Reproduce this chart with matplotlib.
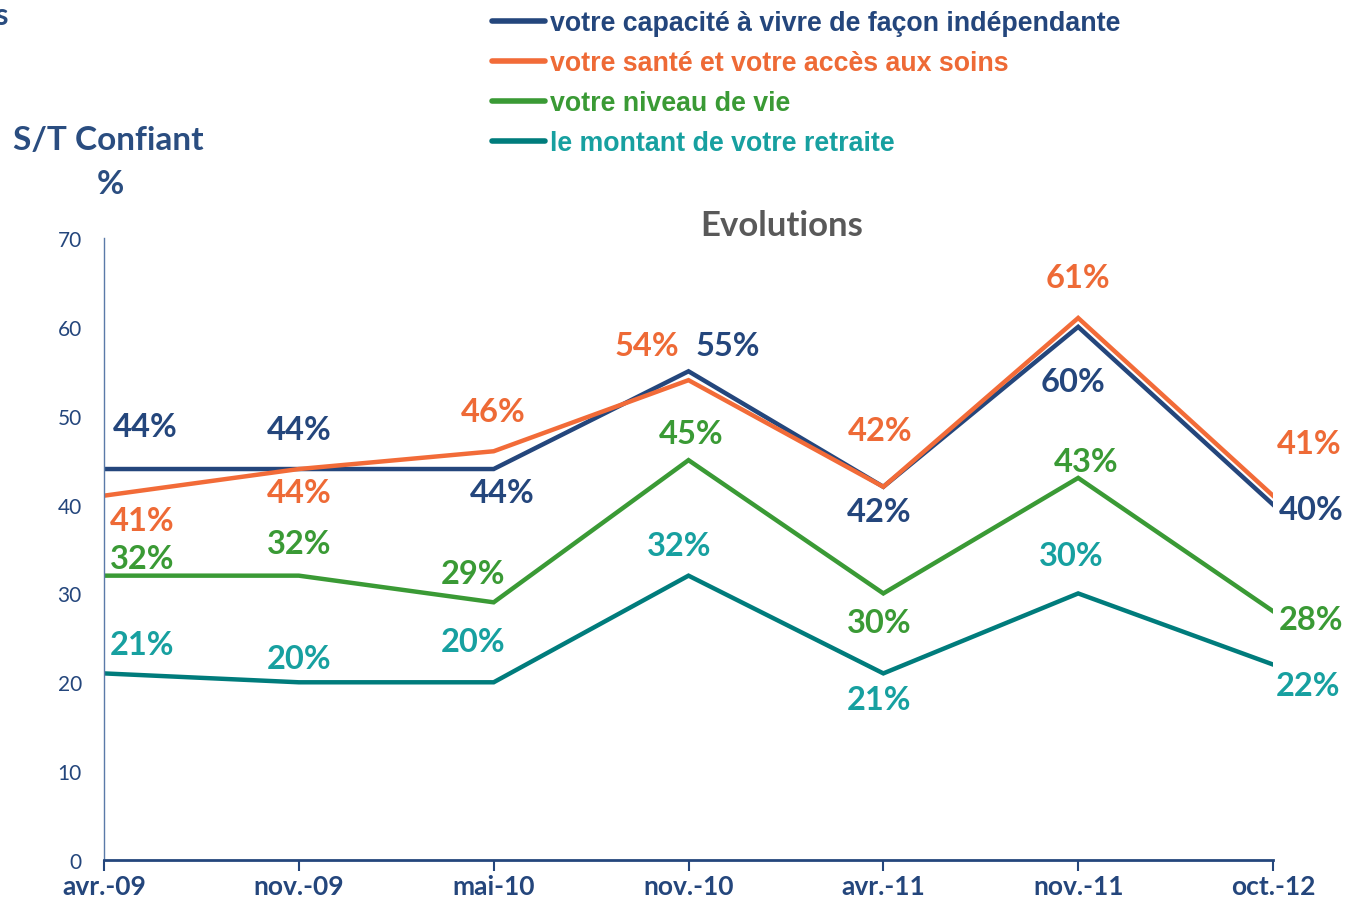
import numpy as np
import matplotlib.pyplot as plt
from matplotlib.lines import Line2D

periodes = ["avr.-09", "nov.-09", "mai-10", "nov.-10", "avr.-11", "nov.-11", "oct.-12"]
independance = [44, 44, 44, 55, 42, 60, 40]
sante = [41, 44, 46, 54, 42, 61, 41]
niveau_vie = [32, 32, 29, 45, 30, 43, 28]
retraite = [21, 20, 20, 32, 21, 30, 22]

noms = ["votre capacité à vivre de façon indépendante",
        "votre santé et votre accès aux soins",
        "votre niveau de vie",
        "le montant de votre retraite"]

navy = "#24467C"
c_lignes = [navy, "#F26B38", "#3A9A35", "#007C7C"]
c_textes = [navy, "#EE6A36", "#3A9A35", "#17A0A0"]

# decalage des etiquettes (pixels, x droite / y haut)
dec = [
    [(41, 43), (0, 40), (9, -23), (39, 26), (-4, -25), (-5, -55), (38, -5)],
    [(38, -25), (0, -23), (0, 40), (-42, 35), (-3, 56), (0, 40), (36, 52)],
    [(38, 17), (0, 32), (-21, 29), (3, 27), (-4, -29), (8, 16), (38, -8)],
    [(38, 29), (0, 24), (-21, 41), (-9, 30), (-4, -26), (-7, 38), (35, -21)],
]

plt.rcParams['font.family'] = ['Lato', 'DejaVu Sans']

fig = plt.figure(figsize=(13.46, 9.03), dpi=100)
ax = fig.add_axes([104/1346, 42/903, 1169/1346, 622/903])

x = np.arange(len(periodes))
series = [independance, sante, niveau_vie, retraite]
for i in [3, 2, 0, 1]:
    ax.plot(x, series[i], color=c_lignes[i], lw=3.2, solid_joinstyle='miter')
for i, s in enumerate(series):
    for j, v in enumerate(s):
        ax.annotate(f"{v}%", (x[j], v), xytext=dec[i][j], textcoords='offset pixels',
                    ha='center', va='center', fontsize=23.5, fontweight='bold',
                    color=c_textes[i], annotation_clip=False)

ax.set_xlim(0, 6)
ax.set_ylim(0, 70)
ax.set_yticks(range(0, 71, 10))
ax.set_xticks(x)
ax.set_xticklabels(periodes, fontsize=19, fontweight='bold', color=navy)
ax.tick_params(axis='y', length=0, labelsize=15, labelcolor=navy, pad=16)
ax.tick_params(axis='x', length=8, width=1.5, color=navy, pad=2)
for sp in ['top', 'right']:
    ax.spines[sp].set_visible(False)
ax.spines['left'].set_color("#5A7AA8")
ax.spines['left'].set_linewidth(1)
ax.spines['bottom'].set_color(navy)
ax.spines['bottom'].set_linewidth(2)

fig.text(782/1346, 1 - 226/903, "Evolutions", ha='center', va='center',
         fontsize=25, fontweight='bold', color="#595959")

fig.text(108/1346, 1 - 140/903, "S/T Confiant", ha='center', va='center',
         fontsize=24, fontweight='bold', color="#2A4D80")
fig.text(110/1346, 1 - 185/903, "%", ha='center', va='center',
         fontsize=24, fontweight='bold', color="#2A4D80")
fig.text(-0.004, 1 - 16/903, "s", ha='left', va='center',
         fontsize=22, fontweight='bold', color="#2A4D80")

for i, nom in enumerate(noms):
    yy = 1 - (22 + 40 * i) / 903
    fig.add_artist(Line2D([492/1346, 545/1346], [yy, yy], color=c_lignes[i], lw=4,
                          solid_capstyle='round'))
    fig.text(550/1346, yy - 2/903, nom, ha='left', va='center', fontsize=19.3,
             fontweight='bold', color=c_textes[i], family=['Liberation Sans'])

fig.savefig("out.png", dpi=100)
